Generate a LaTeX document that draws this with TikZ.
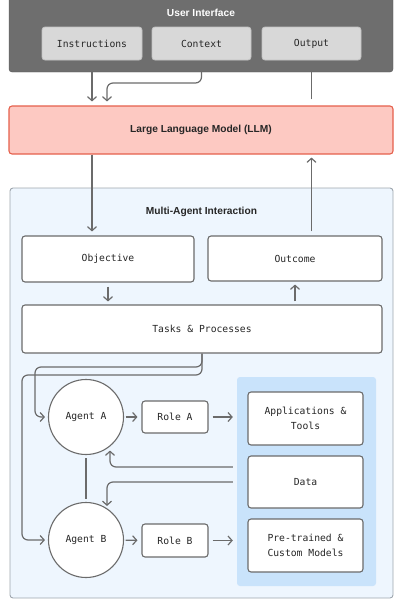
\documentclass[tikz,border=0pt]{standalone}
\usepackage{fontspec}
\setmainfont{Liberation Sans}
\newfontfamily\monofont{DejaVu Sans Mono}
\usetikzlibrary{arrows.meta}

\definecolor{uigray}{HTML}{6E6E6E}
\definecolor{uiedge}{HTML}{555555}
\definecolor{keygray}{HTML}{D8D8D8}
\definecolor{keyedge}{HTML}{C2C2C2}
\definecolor{llmred}{HTML}{FDC9C2}
\definecolor{llmedge}{HTML}{E5604C}
\definecolor{multiblue}{HTML}{EEF6FE}
\definecolor{multiedge}{HTML}{9EA6AE}
\definecolor{panelblue}{HTML}{C9E3FB}
\definecolor{linegray}{HTML}{6B6B6B}
\definecolor{textdark}{HTML}{262626}

\begin{document}
\begin{tikzpicture}[x=1pt,y=-1pt]
  \tikzset{BoxStyle/.style   = {shape          = rectangle,
                                rounded corners = 3pt,
                                draw           = linegray,
                                fill           = white,
                                line width     = 1.1pt,
                                text           = textdark,
                                align          = center,
                                font           = \fontsize{9.7}{15}\selectfont\monofont,
                                inner sep      = 0pt}}
  \tikzset{KeyStyle/.style   = {BoxStyle,
                                draw           = keyedge,
                                fill           = keygray,
                                line width     = 0.8pt}}
  \tikzset{AgentStyle/.style = {BoxStyle,
                                shape          = circle,
                                minimum size   = 75pt}}
  \tikzset{AreaStyle/.style  = {shape          = rectangle,
                                rounded corners = 3pt,
                                inner sep      = 0pt}}
  \tikzset{TitleStyle/.style = {font           = \fontsize{10.2}{12}\selectfont\bfseries,
                                text           = textdark}}
  \tikzset{LineStyle/.style  = {draw           = linegray,
                                line width     = 1.2pt,
                                rounded corners = 6pt}}
  \tikzset{FlowStyle/.style  = {LineStyle,
                                -{Straight Barb[length=4pt,width=9pt]}}}

\useasboundingbox (0,0) rectangle (400,600);
\clip (0,0) rectangle (400,600);

% containers
\node[AreaStyle, draw=uiedge, fill=uigray, minimum width=384pt, minimum height=80pt] (UI) at (201,32) {};
\node[AreaStyle, draw=llmedge, fill=llmred, line width=1.1pt, minimum width=384pt, minimum height=48pt] (LLM) at (201,130) {};
\node[AreaStyle, draw=multiedge, fill=multiblue, line width=0.9pt, minimum width=383pt, minimum height=410pt] (Multi) at (201.5,393) {};
\node[AreaStyle, fill=panelblue, minimum width=139pt, minimum height=209pt] (Panel) at (306.5,481.5) {};

\node[TitleStyle, text=white] (UITitle) at (201,13) {User Interface};
\node[TitleStyle] (LLMTitle) at (201,130) {Large Language Model (LLM)};
\node[TitleStyle] (MultiTitle) at (201.5,212) {Multi-Agent Interaction};

% user interface keys
\node[KeyStyle, minimum width=100pt, minimum height=33pt] (Instr)   at (92,43.5)    {Instructions};
\node[KeyStyle, minimum width=99pt,  minimum height=33pt] (Context) at (201.5,43.5) {Context};
\node[KeyStyle, minimum width=99pt,  minimum height=33pt] (Output)  at (311.5,43.5) {Output};

% multi-agent boxes
\node[BoxStyle, minimum width=172pt, minimum height=46pt] (Obj)   at (108,259)   {Objective};
\node[BoxStyle, minimum width=174pt, minimum height=45pt] (Outc)  at (295,258.5) {Outcome};
\node[BoxStyle, minimum width=360pt, minimum height=48pt] (Tasks) at (202,329)   {Tasks \& Processes};

\node[AgentStyle] (AgentA) at (86,417) {Agent A};
\node[AgentStyle] (AgentB) at (86,540) {Agent B};
\node[BoxStyle, minimum width=66pt, minimum height=32pt] (RoleA) at (175,417)   {Role A};
\node[BoxStyle, minimum width=66pt, minimum height=33pt] (RoleB) at (175,540.5) {Role B};

\node[BoxStyle, minimum width=115pt, minimum height=53pt] (Apps)   at (305.5,418.5) {Applications \&\\Tools};
\node[BoxStyle, minimum width=115pt, minimum height=52pt] (Data)   at (305.5,482)   {Data};
\node[BoxStyle, minimum width=115pt, minimum height=53pt] (Models) at (305.5,545.5) {Pre-trained \&\\Custom Models};

\coordinate (CtxBend) at (107,83);
\coordinate (SplitA)  at (35,367);
\coordinate (SplitB)  at (22,375);
\coordinate (DataA)   at (110,467);
\coordinate (DataB)   at (107,482);

% connectors
\draw[FlowStyle, shorten >=4pt] (Instr |- UI.south) -- (Instr |- LLM.north);
\draw[FlowStyle, shorten >=4pt] (Context |- UI.south) |- (CtxBend) -- (CtxBend |- LLM.north);
\draw[LineStyle, shorten <=6pt] (Output |- LLM.north) -- (Output |- UI.south);

\draw[FlowStyle, shorten >=4pt] (Instr |- LLM.south) -- (Instr |- Obj.north);
\draw[FlowStyle, shorten <=4pt, shorten >=3pt] (Output |- Outc.north) -- (Output |- LLM.south);
\draw[FlowStyle, shorten <=4pt, shorten >=3pt] (Obj.south) -- (Obj |- Tasks.north);
\draw[FlowStyle, shorten <=3pt, shorten >=3pt] (Outc |- Tasks.north) -- (Outc.south);

\draw[FlowStyle, shorten >=3pt] (Tasks.south) |- (SplitA) |- (AgentA.west);
\draw[FlowStyle, shorten >=3pt] (Tasks.south) |- (SplitB) |- (AgentB.west);

\draw[FlowStyle, shorten <=1.5pt, shorten >=4pt] (AgentA) -- (RoleA);
\draw[FlowStyle, shorten <=1.5pt, shorten >=4pt] (AgentB) -- (RoleB);
\draw[FlowStyle, shorten <=4pt, shorten >=4pt] (RoleA) -- (RoleA -| Panel.west);
\draw[FlowStyle, shorten <=4pt, shorten >=4pt] (RoleB) -- (RoleB -| Panel.west);
\draw[LineStyle, shorten <=3pt, shorten >=3pt] (AgentA) -- (AgentB);

\draw[FlowStyle, shorten <=4pt] (Panel.west |- DataA) -- (DataA) -- ([yshift=4.5pt]DataA |- AgentA.south);
\draw[FlowStyle, shorten <=4pt] (Panel.west |- DataB) -- (DataB) -- ([yshift=-4pt]DataB |- AgentB.north);

\end{tikzpicture}
\end{document}
